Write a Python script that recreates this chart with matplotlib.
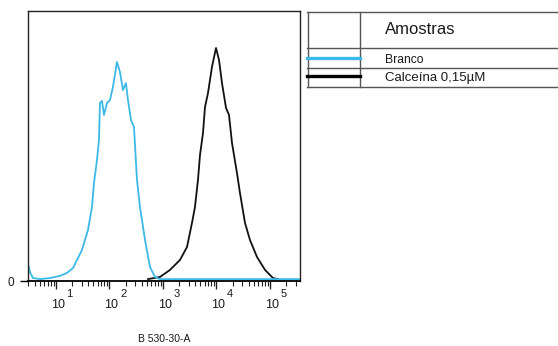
import matplotlib
matplotlib.use("Agg")
import matplotlib.pyplot as plt
import numpy as np
from matplotlib.lines import Line2D

plt.rcParams['font.family'] = ['Liberation Sans', 'DejaVu Sans']

# Fluorescence (log10 of B 530-30-A) and counts (% of axis height)
branco_log = [0.477, 0.514, 0.570, 0.701, 0.888, 1.075, 1.206, 1.318, 1.486, 1.598,
              1.673, 1.710, 1.766, 1.804, 1.822, 1.860, 1.897, 1.953, 2.009, 2.065,
              2.140, 2.196, 2.252, 2.308, 2.346, 2.402, 2.458, 2.477, 2.514, 2.570,
              2.664, 2.757, 2.850, 2.944, 5.561]
branco_count = [6.3, 3.3, 1.1, 0.7, 1.1, 1.9, 3.0, 4.8, 11.5, 18.9,
                27.4, 36.3, 44.8, 52.2, 65.9, 66.7, 61.5, 65.9, 67.0, 71.9,
                81.1, 77.4, 70.7, 73.3, 67.0, 59.6, 57.0, 50.4, 37.4, 27.4,
                15.2, 5.2, 1.5, 0.7, 0.7]

calceina_log = [2.72, 2.944, 3.131, 3.318, 3.449, 3.542, 3.598, 3.654, 3.692, 3.748,
                3.785, 3.841, 3.916, 3.991, 4.047, 4.103, 4.178, 4.234, 4.290, 4.383,
                4.439, 4.533, 4.626, 4.757, 4.907, 5.056, 5.150]
calceina_count = [0.7, 1.5, 4.1, 7.8, 12.6, 21.5, 27.4, 37.4, 46.7, 54.8,
                  64.4, 69.6, 79.3, 86.3, 81.9, 73.3, 64.1, 61.5, 51.1, 40.0,
                  32.6, 21.5, 15.2, 8.9, 4.1, 1.1, 0.7]

decades = [1, 2, 3, 4, 5]
series_names = ["Branco", "Calceína 0,15µM"]
legend_title = "Amostras"
x_label = "B 530-30-A"

blue = '#3cb9e6'
txt = '#1a1a1a'

W, H = 558, 346
fig = plt.figure(figsize=(W / 100, H / 100), dpi=100)
ax = fig.add_axes([28 / W, 1 - 281 / H, 272 / W, 270 / H])

ax.plot(10 ** np.array(calceina_log), calceina_count, color='#111111', lw=1.3)
ax.plot(10 ** np.array(branco_log), branco_count, color=blue, lw=1.3)

ax.set_xscale('log')
ax.set_xlim(10 ** 0.477, 10 ** 5.561)
ax.set_ylim(0, 100)

for s in ax.spines.values():
    s.set_linewidth(1.0)
    s.set_color('#222222')
ax.spines['bottom'].set_linewidth(1.3)
ax.spines['bottom'].set_color('black')

ax.set_xticks([10 ** d for d in decades])
ax.set_xticklabels([''] * len(decades))
ax.tick_params(axis='x', which='major', direction='out', length=6, width=1, color='#222222')
ax.tick_params(axis='x', which='minor', direction='out', length=3.5, width=0.8, color='#222222')
ax.set_yticks([0])
ax.set_yticklabels(['0'], fontsize=8.5, color=txt)
ax.tick_params(axis='y', direction='out', length=6, width=1, pad=4)

# decade labels "10" with raised exponent
for d in decades:
    xv = 10 ** d
    ax.annotate("10", xy=(xv, 0), xycoords=('data', 'axes fraction'),
                xytext=(2, -24), textcoords='offset pixels',
                ha='center', va='center', fontsize=9, color=txt)
    ax.annotate(str(d), xy=(xv, 0), xycoords=('data', 'axes fraction'),
                xytext=(10.5, -13), textcoords='offset pixels',
                ha='left', va='center', fontsize=8, color=txt)

fig.text(164 / W, 1 - 339 / H, x_label, ha='center', va='center', fontsize=7.5, color=txt)

# legend table
tc = '#555555'
def hline(y, x0=307, x1=558):
    fig.add_artist(Line2D([x0 / W, x1 / W], [1 - y / H, 1 - y / H], color=tc, lw=1.0))
def vline(x, y0, y1):
    fig.add_artist(Line2D([x / W, x / W], [1 - y0 / H, 1 - y1 / H], color=tc, lw=1.0))

for yy in [12, 48, 68, 86.5]:
    hline(yy)
vline(307.5, 12, 86.5)
vline(360, 12, 86.5)

fig.add_artist(Line2D([307 / W, 360 / W], [1 - 57.7 / H, 1 - 57.7 / H], color=blue, lw=2.4))
fig.add_artist(Line2D([307 / W, 360 / W], [1 - 75.5 / H, 1 - 75.5 / H], color='black', lw=2.4))

fig.text(385 / W, 1 - 29 / H, legend_title, ha='left', va='center', fontsize=12, color=txt)
fig.text(385 / W, 1 - 60 / H, series_names[0], ha='left', va='center', fontsize=8.7, color=txt)
fig.text(385 / W, 1 - 78 / H, series_names[1], ha='left', va='center', fontsize=9.5, color=txt)

fig.savefig('out.png', dpi=100)
